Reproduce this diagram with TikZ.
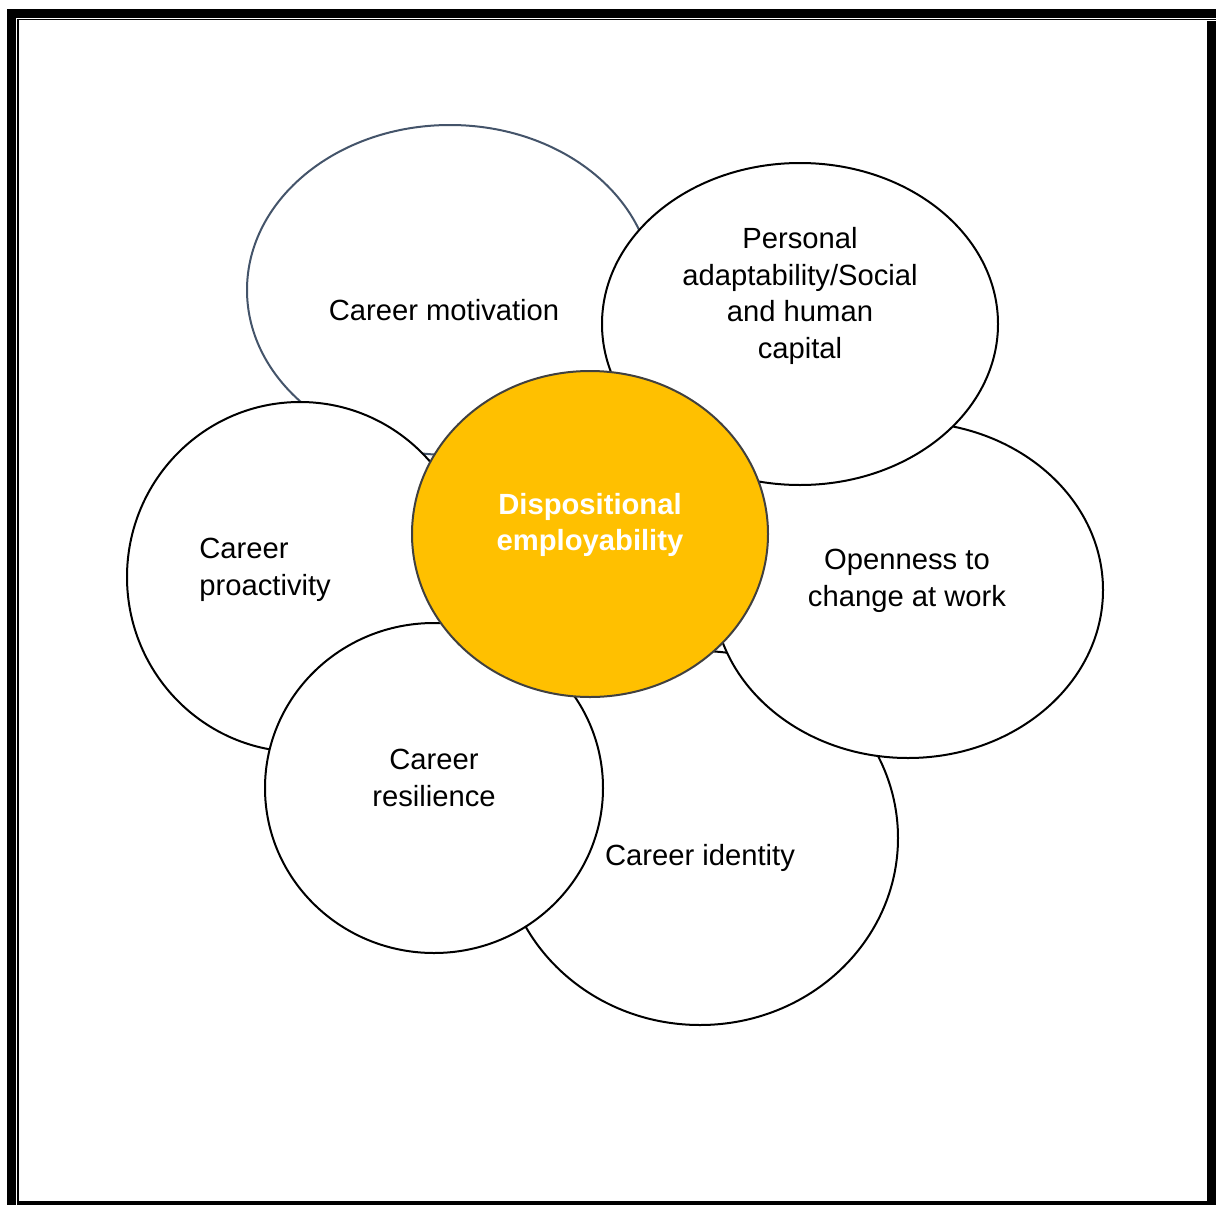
\documentclass[tikz,border=0pt]{standalone}
\usepackage{fontspec}
\setmainfont{Liberation Sans}
\usetikzlibrary{shapes.geometric}
\definecolor{gold}{HTML}{FFC000}
\definecolor{slate}{HTML}{44546A}
\definecolor{rim}{HTML}{404040}
\tikzset{
	petal/.style={ellipse, draw=black, fill=white, line width=1pt, inner sep=0pt},
	petaltext/.style={inner sep=0pt, align=center, font=\fontsize{14.6}{18.4}\selectfont}
}

\begin{document}
\begin{tikzpicture}[x=0.5pt,y=-0.5pt]
		\useasboundingbox (0,0) rectangle (1216,1205);
		% frame
		\fill (7,9) rectangle (1216,17.5);
		\fill (7,9) rectangle (15.5,1205);
		\fill (17,19) rectangle (1216,20.3);
		\fill (17,19) rectangle (18.8,1201);
		\fill (1207,20.7) rectangle (1216,1205);
		\fill (17,1200.5) rectangle (1216,1205);
		% petals, back to front
		\node[petal, draw=slate, minimum width=203pt, minimum height=165pt] (motivation) at (450,290) {};
		\node[petal, minimum width=198pt, minimum height=187pt] (identity) at (700,838) {};
		\node[petal, minimum width=195pt, minimum height=168pt] (openness) at (908,590) {};
		\node[petal, minimum width=198pt, minimum height=161pt] (personal) at (800,324) {};
		\node[petal, minimum width=173pt, minimum height=175pt] (proactivity) at (300,577) {};
		\node[petal, minimum width=169pt, minimum height=165pt] (resilience) at (434,788) {};
		\node[petal, draw=rim, fill=gold, minimum width=178pt, minimum height=163pt] (disp) at (590,534) {};
		% texts
		\node[petaltext] (motivationtext) at (444,310) {Career motivation};
		\node[petaltext] (personaltext) at (800,296) {Personal\\adaptability/Social\\and human\\capital};
		\node[petaltext] (opennesstext) at (907,581) {Openness to\\change at work};
		\node[petaltext] (identitytext) at (700,858) {Career identity};
		\node[petaltext] (resiliencetext) at (434,778) {Career\\resilience};
		\node[petaltext, align=left, anchor=west] (proactivitytext) at (199,570) {Career\\proactivity};
		\node[petaltext, text=white, font=\fontsize{14.6}{18.4}\selectfont\bfseries] (disptext) at (590,525) {Dispositional\\employability};
	\end{tikzpicture}
\end{document}
